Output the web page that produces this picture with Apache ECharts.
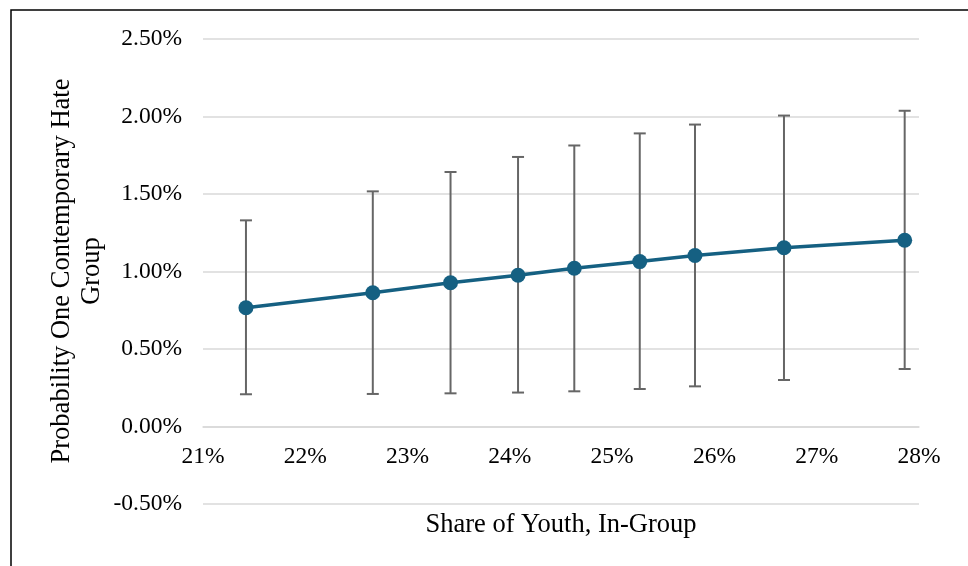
<!DOCTYPE html>
<html>
<head>
<meta charset="utf-8">
<script src="https://cdn.jsdelivr.net/npm/echarts@6/dist/echarts.min.js"></script>
<style>
  html, body { margin: 0; padding: 0; background: #ffffff; }
  #chart { width: 968px; height: 566px; }
</style>
</head>
<body>
<div id="chart"></div>
<script>
// Share of youth in the in-group (%)
const youthShare = [21.42, 22.66, 23.42, 24.08, 24.63, 25.27, 25.81, 26.68, 27.86];
// Predicted probability of one contemporary hate group (%)
const probability = [0.766, 0.863, 0.927, 0.976, 1.021, 1.064, 1.103, 1.153, 1.202];
// Confidence interval bounds (%)
const upperBound = [1.330, 1.517, 1.642, 1.739, 1.813, 1.891, 1.948, 2.006, 2.037];
const lowerBound = [0.208, 0.210, 0.214, 0.219, 0.227, 0.242, 0.259, 0.300, 0.371];

const xTitle = 'Share of Youth, In-Group';
const yTitle = 'Probability One Contemporary Hate\nGroup';

const serif = '"Liberation Serif", "DejaVu Serif", serif';
const lineColor = '#156082';
const barColor = '#666666';

const chart = echarts.init(document.getElementById('chart'), null, { renderer: 'canvas' });

const linePoints = youthShare.map((x, i) => [x, probability[i]]);
const intervals = youthShare.map((x, i) => [x, lowerBound[i], upperBound[i]]);

chart.setOption({
  animation: false,
  backgroundColor: '#ffffff',
  grid: { left: 203, right: 49, top: 39, bottom: 62 },
  xAxis: {
    type: 'value',
    min: 21,
    max: 28,
    interval: 1,
    axisLine: { show: true, onZero: false, lineStyle: { color: '#d9d9d9', width: 1.5 } },
    axisTick: { show: false },
    splitLine: { show: false },
    axisLabel: {
      margin: 18,
      color: '#000000',
      fontFamily: serif,
      fontSize: 23.5,
      formatter: v => v + '%'
    }
  },
  yAxis: {
    type: 'value',
    min: -0.5,
    max: 2.5,
    interval: 0.5,
    axisLine: { show: false },
    axisTick: { show: false },
    splitLine: { lineStyle: { color: '#d9d9d9', width: 1.5 } },
    axisLabel: {
      margin: 21,
      color: '#000000',
      fontFamily: serif,
      fontSize: 23.5,
      formatter: v => v.toFixed(2) + '%'
    }
  },
  graphic: [
    {
      type: 'polyline',
      shape: { points: [[11, 600], [11, 10], [980, 10]] },
      style: { stroke: '#000000', lineWidth: 1.5, fill: null },
      z: 100
    },
    {
      type: 'text',
      x: 561,
      y: 525,
      style: {
        text: xTitle,
        font: '26.5px ' + serif,
        fill: '#000000',
        textAlign: 'center',
        textVerticalAlign: 'middle'
      }
    },
    {
      type: 'text',
      x: 77,
      y: 271,
      rotation: Math.PI / 2,
      style: {
        text: yTitle,
        font: '26.5px ' + serif,
        lineHeight: 30,
        fill: '#000000',
        textAlign: 'center',
        textVerticalAlign: 'middle'
      }
    }
  ],
  series: [
    {
      type: 'custom',
      name: 'interval',
      data: intervals,
      encode: { x: 0, y: [1, 2] },
      z: 2,
      renderItem: function (params, api) {
        const x = api.value(0);
        const lo = api.coord([x, api.value(1)]);
        const hi = api.coord([x, api.value(2)]);
        const half = 6;
        const style = { stroke: barColor, lineWidth: 2 };
        return {
          type: 'group',
          children: [
            { type: 'line', shape: { x1: lo[0], y1: lo[1], x2: hi[0], y2: hi[1] }, style },
            { type: 'line', shape: { x1: hi[0] - half, y1: hi[1], x2: hi[0] + half, y2: hi[1] }, style },
            { type: 'line', shape: { x1: lo[0] - half, y1: lo[1], x2: lo[0] + half, y2: lo[1] }, style }
          ]
        };
      }
    },
    {
      type: 'line',
      name: 'probability',
      data: linePoints,
      z: 3,
      smooth: false,
      symbol: 'circle',
      symbolSize: 15,
      lineStyle: { color: lineColor, width: 3.5 },
      itemStyle: { color: lineColor, borderWidth: 0 }
    }
  ]
});

// Lift the horizontal axis so it crosses the vertical one at 0%
const yBottom = chart.convertToPixel({ yAxisIndex: 0 }, -0.5);
const yZero = chart.convertToPixel({ yAxisIndex: 0 }, 0);
chart.setOption({ xAxis: { offset: -(yBottom - yZero) } });
</script>
</body>
</html>
